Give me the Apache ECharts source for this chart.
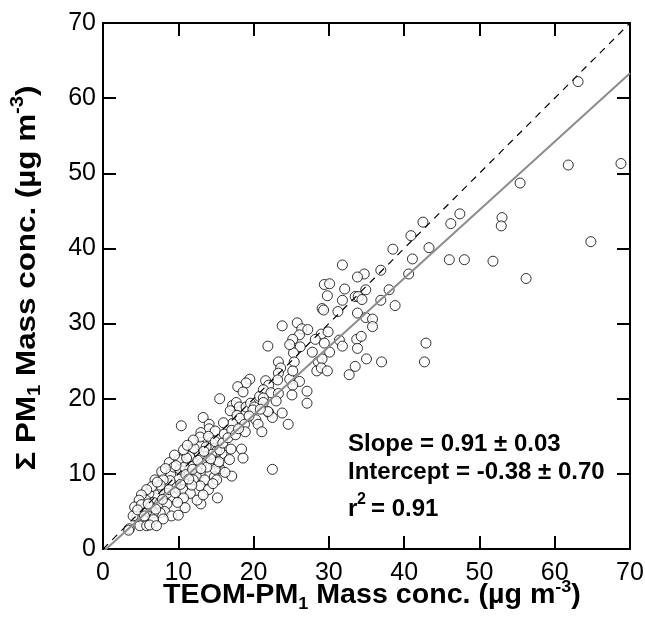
<!DOCTYPE html>
<html>
<head>
<meta charset="utf-8">
<script src="https://cdn.jsdelivr.net/npm/echarts@6/dist/echarts.min.js"></script>
<style>
html,body{margin:0;padding:0;background:#fff;}
#c{width:645px;height:629px;}
</style>
</head>
<body>
<div id="c"></div>
<script>
// TEOM-PM1 (x) and ΣPM1 (y), µg m-3
const teom = [
63.1,61.8,68.8,55.4,47.4,46.2,53.0,52.9,64.8,46.0,48.0,51.8,56.2,
42.5,40.9,43.3,38.5,41.1,40.6,36.9,38.0,36.9,38.8,34.7,33.8,31.8,34.9,33.5,33.9,
34.4,32.1,29.4,30.1,29.8,31.8,29.1,29.3,31.2,33.8,34.9,35.8,35.8,25.8,26.4,27.2,26.1,25.2,29.0,29.9,28.2,29.4,31.4,31.8,33.7,34.3,33.8,26.2,27.8,30.1,25.3,25.4,28.6,29.1,28.4,29.0,29.8,35.0,33.5,32.7,37.0,42.9,42.7,24.8,26.1,27.1,25.2,25.1,
23.8,24.8,21.9,23.3,23.6,23.3,25.2,23.2,27.1,19.5,19.0,17.9,18.6,21.6,22.0,21.3,20.8,22.3,21.3,23.3,23.0,15.5,17.2,17.7,16.9,18.1,19.0,19.6,20.1,19.9,17.8,18.2,17.2,18.8,20.3,20.6,22.0,22.5,23.8,24.6,21.1,18.9,16.0,13.3,14.1,14.1,14.9,13.0,10.4,16.1,17.1,14.4,12.9,17.0,18.4,
21.3,21.9,18.6,15.8,14.6,14.9,14.6,15.5,14.8,15.1,17.1,22.5,15.2,15.1,15.3,14.9,
16.8,15.4,13.0,14.4,13.5,12.8,12.2,13.1,13.8,12.9,12.4,11.6,11.5,11.5,12.4,12.0,13.5,12.9,14.0,14.6,10.7,10.0,9.0,8.9,9.8,10.6,11.6,10.7,9.3,8.5,7.6,6.9,6.1,5.7,6.7,7.5,8.5,8.2,7.6,6.7,6.7,5.8,5.3,4.9,5.8,4.5,4.0,3.5,9.1,8.0,8.8,10.1,9.4,10.2,10.8,7.8,6.9,8.0,7.6,6.5,5.8,5.1,4.8,4.2,5.1,11.1,10.7,12.1,13.7,12.9,14.0,12.0,11.2,14.9,15.5,
3.4,6.2,7.1,10.9,12.5,10.0,11.8,9.5,16.2,13.3,
4.6,5.5,6.3,7.0,7.9,8.8,9.6,10.3,11.0,11.9,12.6,13.4,14.3,15.9,16.6,17.6,18.0,19.4,20.9,9.9,6.0,7.2,8.3,9.7,11.4,13.0
];
const sumPM1 = [
62.2,51.1,51.3,48.7,44.6,43.3,44.1,43.0,40.9,38.5,38.5,38.3,36.0,
43.5,41.7,40.1,39.9,38.6,36.6,37.1,34.5,33.1,32.4,36.6,36.2,37.8,34.5,33.6,33.6,
33.2,34.6,35.2,35.3,33.7,33.1,32.0,31.8,31.6,31.4,30.8,30.6,29.6,30.1,29.3,29.2,28.5,27.9,28.6,28.9,27.9,27.4,27.8,27.0,27.9,28.3,26.7,26.9,26.2,26.2,26.1,24.9,24.9,25.3,23.7,24.1,23.7,25.3,24.3,23.2,24.9,27.4,24.9,22.6,22.3,21.0,21.8,20.5,
29.7,27.2,27.0,24.9,24.1,23.4,23.7,22.5,19.4,22.6,22.1,21.6,20.9,22.4,21.8,21.2,20.3,20.8,20.1,20.7,19.7,20.0,19.1,19.5,18.4,18.9,18.9,19.4,18.9,18.5,17.8,17.4,16.7,16.6,17.2,16.6,18.2,17.5,18.1,16.6,15.6,15.6,16.8,17.5,16.6,16.0,15.7,15.5,16.4,15.3,15.8,14.2,13.8,13.3,13.3,
19.5,18.3,12.1,12.7,13.4,12.4,11.6,10.7,9.6,9.2,9.7,10.6,6.8,13.0,11.4,10.6,
11.9,11.6,6.0,12.6,12.3,12.4,11.4,11.4,10.9,10.1,10.5,11.0,12.3,10.0,9.6,9.2,9.2,8.4,7.9,8.7,9.2,9.6,10.0,9.1,8.2,7.9,7.4,6.8,6.9,7.4,7.8,7.2,7.4,6.5,6.2,6.0,6.0,5.0,4.8,4.8,3.9,5.0,3.9,3.1,3.1,4.3,4.4,2.7,4.4,4.0,11.5,11.9,10.9,10.6,10.9,10.3,9.2,9.2,8.5,8.3,7.9,7.2,6.5,5.6,5.9,12.1,13.2,13.4,13.6,14.9,15.0,14.5,13.8,14.3,13.2,
2.5,3.2,3.1,5.5,6.5,4.5,8.5,12.5,10.2,7.2,
5.2,4.4,5.6,5.3,6.6,7.9,7.5,8.6,9.9,10.6,11.8,13.0,12.0,14.1,14.8,15.2,16.0,17.7,18.6,6.2,6.0,8.9,10.7,11.1,9.3,10.7
];
const axisMin = 0, axisMax = 70, axisStep = 10;
const slope = 0.91, intercept = -0.38;
const fitX = [0, 70];
const oneToOne = [0, 70];
const annoLines = ['Slope = 0.91 ± 0.03', 'Intercept = -0.38 ± 0.70', '0.91'];

const pts = teom.map((v, i) => [v, sumPM1[i]]);
const fitData = fitX.map(x => [x, slope * x + intercept]);
const diagData = oneToOne.map(v => [v, v]);

const FONT = '"Liberation Sans", Arial, Helvetica, sans-serif';
const chart = echarts.init(document.getElementById('c'), null, {renderer: 'canvas'});

function axisCommon(showLabel, pos) {
  return {
    type: 'value', min: axisMin, max: axisMax, interval: axisStep, position: pos,
    axisLine: {show: true, onZero: false, lineStyle: {color: '#000', width: 2}},
    axisTick: {show: true, inside: true, length: 13, lineStyle: {color: '#000', width: 2}},
    axisLabel: {show: showLabel, color: '#000', fontSize: 25, fontFamily: FONT},
    splitLine: {show: false}
  };
}
const xb = axisCommon(true, 'bottom'); xb.axisLabel.margin = 12;
const xt = axisCommon(false, 'top');
const yl = axisCommon(true, 'left'); yl.axisLabel.margin = 7;
const yr = axisCommon(false, 'right');

function richFor(size) {
  const s = Math.round(size * 0.63);
  return {
    m: {fontSize: size, fontWeight: 'bold', fontFamily: FONT, color: '#000', lineHeight: size + 7, verticalAlign: 'middle'},
    sub: {fontSize: s, fontWeight: 'bold', fontFamily: FONT, color: '#000', lineHeight: 15, verticalAlign: 'bottom'},
    sup: {fontSize: s, fontWeight: 'bold', fontFamily: FONT, color: '#000', lineHeight: 15, verticalAlign: 'top'}
  };
}
const annoStyle = {fontSize: 24, fontWeight: 'bold', fontFamily: FONT, fill: '#000'};

chart.setOption({
  animation: false,
  backgroundColor: '#fff',
  grid: {left: 103, right: 15, top: 23, bottom: 80, containLabel: false, outerBoundsMode: 'none'},
  xAxis: [xb, xt],
  yAxis: [yl, yr],
  series: [
    {type: 'scatter', data: pts, symbol: 'circle', symbolSize: 10, z: 2,
     itemStyle: {color: '#fff', borderColor: '#000', borderWidth: 1}},
    {type: 'line', data: diagData, showSymbol: false, symbol: 'none', z: 3,
     lineStyle: {color: '#000', width: 1.2, type: [7, 6]}},
    {type: 'line', data: fitData, showSymbol: false, symbol: 'none', z: 4,
     lineStyle: {color: '#8c8c8c', width: 2}}
  ],
  graphic: [
    {type: 'text', x: 372, y: 596, scaleX: 1.06, z: 10, style: {
      text: '{m|TEOM-PM}{sub|1}{m| Mass conc. (µg m}{sup|-3}{m|)}', rich: richFor(27),
      align: 'center', verticalAlign: 'middle'}},
    {type: 'text', x: 27, y: 278, rotation: Math.PI / 2, scaleX: 1.12, z: 10, style: {
      text: '{m|Σ PM}{sub|1}{m| Mass conc. (µg m}{sup|-3}{m|)}', rich: richFor(28),
      align: 'center', verticalAlign: 'middle'}},
    {type: 'text', x: 348, y: 444, z: 10, style: Object.assign({text: annoLines[0], align: 'left', verticalAlign: 'middle'}, annoStyle)},
    {type: 'text', x: 348, y: 472, z: 10, style: Object.assign({text: annoLines[1], align: 'left', verticalAlign: 'middle'}, annoStyle)},
    {type: 'text', x: 348, y: 509, z: 10, style: Object.assign({text: 'r', align: 'left', verticalAlign: 'middle'}, annoStyle)},
    {type: 'text', x: 357, y: 500, z: 10, style: Object.assign({text: '2', align: 'left', verticalAlign: 'middle'}, annoStyle, {fontSize: 16})},
    {type: 'text', x: 371, y: 509, z: 10, style: Object.assign({text: '= ' + annoLines[2], align: 'left', verticalAlign: 'middle'}, annoStyle)}
  ]
});
</script>
</body>
</html>
